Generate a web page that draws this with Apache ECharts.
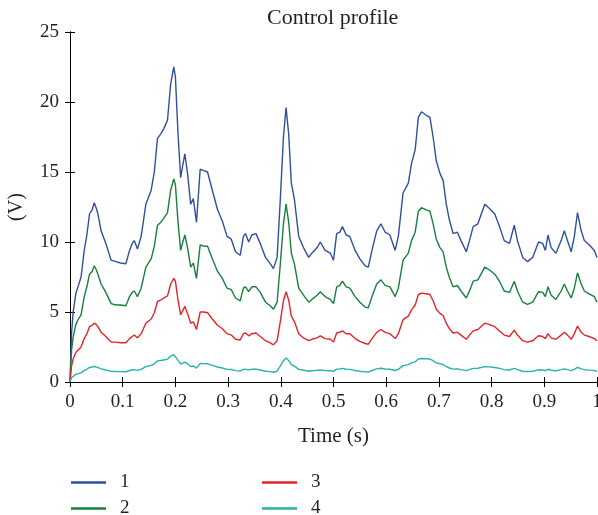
<!DOCTYPE html>
<html>
<head>
<meta charset="utf-8">
<script src="https://cdn.jsdelivr.net/npm/echarts@6/dist/echarts.min.js"></script>
<style>
  html, body { margin: 0; padding: 0; background: #fff; }
  #chart { width: 598px; height: 515px; }
</style>
</head>
<body>
<div id="chart"></div>
<script>
// Sample instants (s)
const time = [
  0, 0.003, 0.006, 0.011, 0.016, 0.021, 0.027, 0.032, 0.037, 0.042,
  0.046, 0.050, 0.053, 0.059, 0.068, 0.078, 0.087, 0.096, 0.106, 0.113,
  0.118, 0.122, 0.128, 0.135, 0.144, 0.154, 0.160, 0.166, 0.172, 0.178,
  0.185, 0.191, 0.197, 0.200, 0.205, 0.210, 0.214, 0.218, 0.223, 0.229,
  0.234, 0.240, 0.247, 0.254, 0.261, 0.270, 0.280, 0.289, 0.298, 0.306,
  0.314, 0.323, 0.329, 0.333, 0.339, 0.345, 0.353, 0.361, 0.371, 0.380,
  0.386, 0.393, 0.399, 0.405, 0.410, 0.415, 0.420, 0.426, 0.434, 0.443,
  0.453, 0.459, 0.469, 0.475, 0.484, 0.494, 0.500, 0.506, 0.512, 0.517,
  0.524, 0.531, 0.541, 0.550, 0.560, 0.566, 0.573, 0.582, 0.590, 0.598,
  0.607, 0.617, 0.623, 0.632, 0.642, 0.648, 0.655, 0.661, 0.667, 0.676,
  0.683, 0.689, 0.695, 0.702, 0.708, 0.714, 0.720, 0.727, 0.735, 0.742,
  0.752, 0.758, 0.765, 0.774, 0.787, 0.796, 0.806, 0.815, 0.824, 0.834,
  0.843, 0.849, 0.859, 0.868, 0.878, 0.889, 0.897, 0.902, 0.907, 0.913,
  0.922, 0.932, 0.938, 0.944, 0.951, 0.957, 0.963, 0.970, 0.976, 0.985,
  0.995, 1.0
];

// Control voltage of channel 1 (V)
const ch1 = [
  0, 3.5, 5.0, 6.3, 6.9, 7.5, 9.4, 10.5, 12.0, 12.3,
  12.8, 12.4, 12.0, 10.8, 9.9, 8.7, 8.6, 8.5, 8.45, 9.4,
  9.9, 10.1, 9.5, 10.4, 12.7, 13.7, 15.0, 17.4, 17.7, 18.1,
  18.7, 21.3, 22.5, 21.8, 17.7, 14.6, 15.5, 16.3, 14.9, 12.7,
  13.1, 11.4, 15.2, 15.1, 15.0, 13.7, 12.3, 11.5, 10.4, 10.2,
  9.3, 9.05, 10.4, 10.6, 10.0, 10.5, 10.6, 9.9, 8.9, 8.45,
  8.1, 8.9, 13.0, 17.5, 19.6, 17.7, 14.2, 13.0, 10.4, 9.6,
  8.9, 9.2, 9.6, 10.0, 9.4, 9.2, 8.7, 10.6, 10.7, 11.1,
  10.5, 10.4, 9.4, 8.8, 8.3, 8.2, 9.4, 10.8, 11.3, 10.7,
  10.5, 9.4, 10.4, 13.5, 14.2, 15.6, 16.6, 18.9, 19.3, 19.05,
  18.9, 17.5, 15.8, 14.9, 14.4, 12.7, 11.55, 10.6, 10.7, 10.1,
  9.3, 10.1, 11.1, 11.3, 12.7, 12.4, 12.0, 11.1, 10.1, 9.9,
  11.2, 10.1, 8.9, 8.6, 8.9, 10.0, 9.9, 9.4, 10.5, 9.6,
  9.2, 10.1, 10.8, 10.1, 9.3, 10.4, 12.1, 10.8, 10.1, 9.8,
  9.4, 8.9
];

// Channel 2 (V)
const ch2 = [
  0, 2.3, 3.2, 4.1, 4.5, 4.8, 6.1, 6.8, 7.7, 7.9,
  8.3, 8.0, 7.7, 7.0, 6.4, 5.6, 5.5, 5.5, 5.45, 6.1,
  6.4, 6.5, 6.1, 6.7, 8.2, 8.8, 9.7, 11.2, 11.4, 11.7,
  12.1, 13.7, 14.5, 14.1, 11.4, 9.4, 10.0, 10.5, 9.6, 8.2,
  8.5, 7.4, 9.8, 9.7, 9.7, 8.8, 7.9, 7.4, 6.7, 6.6,
  6.0, 5.8, 6.7, 6.8, 6.45, 6.8, 6.8, 6.4, 5.7, 5.45,
  5.2, 5.7, 8.4, 11.3, 12.7, 11.4, 9.2, 8.4, 6.7, 6.2,
  5.7, 5.9, 6.2, 6.45, 6.1, 5.9, 5.6, 6.8, 6.9, 7.2,
  6.8, 6.7, 6.1, 5.7, 5.35, 5.3, 6.1, 7.0, 7.3, 6.9,
  6.8, 6.1, 6.7, 8.7, 9.2, 10.1, 10.7, 12.2, 12.45, 12.3,
  12.2, 11.3, 10.2, 9.6, 9.3, 8.2, 7.45, 6.8, 6.9, 6.5,
  6.0, 6.5, 7.2, 7.3, 8.2, 8.0, 7.7, 7.2, 6.5, 6.4,
  7.2, 6.5, 5.7, 5.55, 5.7, 6.45, 6.4, 6.1, 6.8, 6.2,
  5.9, 6.5, 7.0, 6.5, 6.0, 6.7, 7.8, 7.0, 6.5, 6.3,
  6.1, 5.7
];

// Channel 3 (V)
const ch3 = [
  0, 1.15, 1.65, 2.1, 2.3, 2.5, 3.1, 3.45, 3.95, 4.05,
  4.2, 4.1, 3.95, 3.55, 3.25, 2.85, 2.85, 2.8, 2.8, 3.1,
  3.25, 3.35, 3.15, 3.45, 4.2, 4.5, 4.95, 5.75, 5.85, 6.0,
  6.15, 7.0, 7.4, 7.2, 5.85, 4.8, 5.1, 5.4, 4.9, 4.2,
  4.3, 3.75, 5.0, 5.0, 4.95, 4.5, 4.05, 3.8, 3.45, 3.35,
  3.05, 3.0, 3.45, 3.5, 3.3, 3.45, 3.5, 3.25, 2.95, 2.8,
  2.65, 2.95, 4.3, 5.8, 6.45, 5.85, 4.7, 4.3, 3.45, 3.15,
  2.95, 3.05, 3.15, 3.3, 3.1, 3.05, 2.85, 3.5, 3.55, 3.65,
  3.45, 3.45, 3.1, 2.9, 2.75, 2.7, 3.1, 3.55, 3.75, 3.55,
  3.45, 3.1, 3.45, 4.45, 4.7, 5.15, 5.5, 6.25, 6.35, 6.3,
  6.25, 5.8, 5.2, 4.9, 4.75, 4.2, 3.8, 3.5, 3.55, 3.35,
  3.05, 3.35, 3.65, 3.75, 4.2, 4.1, 3.95, 3.65, 3.35, 3.25,
  3.7, 3.35, 2.95, 2.85, 2.95, 3.3, 3.25, 3.1, 3.45, 3.15,
  3.05, 3.35, 3.55, 3.35, 3.05, 3.45, 4.0, 3.55, 3.35, 3.25,
  3.1, 2.95
];

// Channel 4 (V)
const ch4 = [
  0, 0.3, 0.43, 0.55, 0.6, 0.65, 0.82, 0.91, 1.04, 1.07,
  1.11, 1.08, 1.04, 0.94, 0.86, 0.76, 0.75, 0.74, 0.73, 0.82,
  0.86, 0.88, 0.83, 0.9, 1.1, 1.19, 1.3, 1.51, 1.54, 1.57,
  1.63, 1.85, 1.96, 1.9, 1.54, 1.27, 1.35, 1.42, 1.3, 1.1,
  1.14, 0.99, 1.32, 1.31, 1.3, 1.19, 1.07, 1.0, 0.9, 0.89,
  0.81, 0.79, 0.9, 0.92, 0.87, 0.91, 0.92, 0.86, 0.77, 0.74,
  0.7, 0.77, 1.13, 1.52, 1.71, 1.54, 1.24, 1.13, 0.9, 0.84,
  0.77, 0.8, 0.84, 0.87, 0.82, 0.8, 0.76, 0.92, 0.93, 0.97,
  0.91, 0.9, 0.82, 0.77, 0.72, 0.71, 0.82, 0.94, 0.98, 0.93,
  0.91, 0.82, 0.9, 1.17, 1.24, 1.36, 1.44, 1.64, 1.68, 1.66,
  1.64, 1.52, 1.37, 1.3, 1.25, 1.1, 1.0, 0.92, 0.93, 0.88,
  0.81, 0.88, 0.97, 0.98, 1.1, 1.08, 1.04, 0.97, 0.88, 0.86,
  0.97, 0.88, 0.77, 0.75, 0.77, 0.87, 0.86, 0.82, 0.91, 0.84,
  0.8, 0.88, 0.94, 0.88, 0.81, 0.9, 1.05, 0.94, 0.88, 0.85,
  0.82, 0.77
];

const seriesNames = ['1', '2', '3', '4'];
const seriesColors = ['#2f4f9f', '#17803c', '#e3242b', '#2ab3aa'];
const xTicks = { min: 0, max: 1, step: 0.1 };
const yTicks = { min: 0, max: 25, step: 5 };

const FONT = '"Liberation Serif", "DejaVu Serif", serif';
const TEXT = '#231f20';
const channels = [ch1, ch2, ch3, ch4];

const chart = echarts.init(document.getElementById('chart'), null, { renderer: 'canvas' });

const tickStyle = { inside: true, length: 5, lineStyle: { color: '#000', width: 1 } };
const lineStyle = { color: '#000', width: 1 };

// Legend laid out as a two-by-two block: one component per entry
const legendSlots = [
  { left: 71, top: 473 },
  { left: 71, top: 499 },
  { left: 262, top: 473 },
  { left: 262, top: 499 }
];
const legends = seriesNames.map((name, i) => ({
  data: [name],
  left: legendSlots[i].left, top: legendSlots[i].top,
  padding: 0,
  itemWidth: 35, itemHeight: 2.5,
  icon: 'rect',
  textStyle: { fontFamily: FONT, fontSize: 19, color: TEXT, padding: [0, 0, 0, 9] }
}));

chart.setOption({
  animation: false,
  backgroundColor: '#fff',
  title: {
    text: 'Control profile',
    left: 262, top: 2,
    textStyle: { fontFamily: FONT, fontSize: 22, fontWeight: 'normal', color: TEXT }
  },
  legend: legends,
  grid: { left: 70, right: 1, top: 32, bottom: 133, outerBoundsMode: 'none', containLabel: false },
  xAxis: [
    {
      type: 'value', min: xTicks.min, max: xTicks.max, interval: xTicks.step,
      name: 'Time (s)', nameLocation: 'middle', nameGap: 44,
      nameTextStyle: { fontFamily: FONT, fontSize: 21, color: TEXT },
      axisLine: { show: true, lineStyle },
      axisTick: tickStyle,
      splitLine: { show: false },
      axisLabel: {
        margin: 11, fontFamily: FONT, fontSize: 19, color: TEXT,
        formatter: v => String(+v.toFixed(1))
      }
    },
    {
      type: 'value', position: 'top', min: xTicks.min, max: xTicks.max, interval: xTicks.step,
      axisLine: { show: true, lineStyle },
      axisTick: tickStyle,
      axisLabel: { show: false },
      splitLine: { show: false }
    }
  ],
  yAxis: [
    {
      type: 'value', min: yTicks.min, max: yTicks.max, interval: yTicks.step,
      name: '(V)', nameLocation: 'middle', nameGap: 43, nameRotate: 90,
      nameTextStyle: { fontFamily: FONT, fontSize: 20, color: TEXT },
      axisLine: { show: true, lineStyle },
      axisTick: tickStyle,
      splitLine: { show: false },
      axisLabel: { margin: 11, fontFamily: FONT, fontSize: 19, color: TEXT }
    },
    {
      type: 'value', position: 'right', min: yTicks.min, max: yTicks.max, interval: yTicks.step,
      axisLine: { show: true, lineStyle },
      axisTick: tickStyle,
      axisLabel: { show: false },
      splitLine: { show: false }
    }
  ],
  series: channels.map((vals, i) => ({
    name: seriesNames[i],
    type: 'line',
    xAxisIndex: 0,
    yAxisIndex: 0,
    data: time.map((t, k) => [t, vals[k]]),
    showSymbol: false,
    symbol: 'none',
    smooth: false,
    lineStyle: { color: seriesColors[i], width: 1.4 },
    itemStyle: { color: seriesColors[i] },
    z: 2 + i
  }))
});
</script>
</body>
</html>
